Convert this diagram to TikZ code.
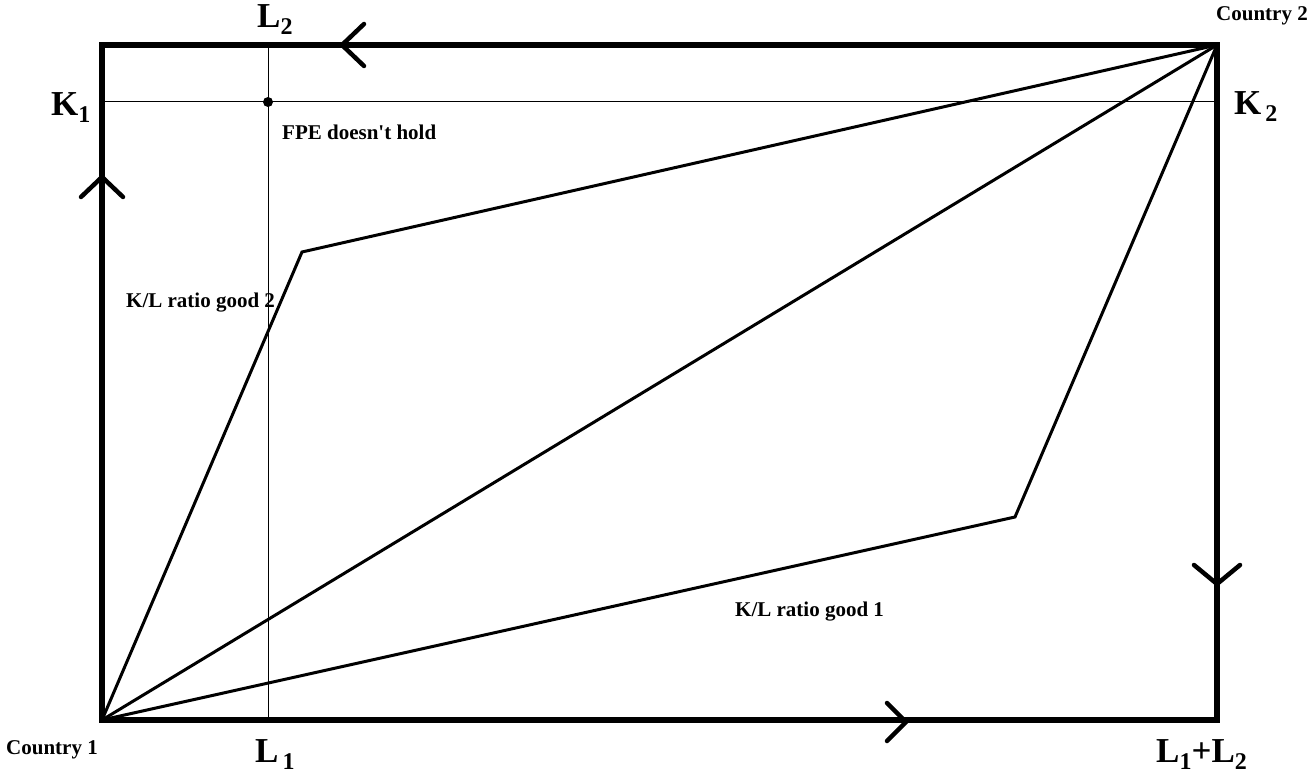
\documentclass[tikz,border=0pt]{standalone}
\usepackage{fontspec}
\setmainfont{Liberation Serif}
\newcommand{\biglab}[2]{\fontsize{35}{37}\selectfont\bfseries #1\raisebox{-0.2em}{\fontsize{24}{24}\selectfont\bfseries #2}}
\begin{document}
\begin{tikzpicture}[x=1pt,y=-1pt,
  frame/.style={line width=6pt,line cap=rect},
  thin/.style={line width=1pt},
  ray/.style={line width=3pt},
  chev/.style={line width=4.5pt,line cap=round,line join=miter},
  small/.style={inner sep=0pt,font=\fontsize{21}{23}\selectfont\bfseries},
  big/.style={inner sep=0pt}]
\useasboundingbox (0,0) rectangle (1307,773);
% corners
\coordinate (c1) at (102,720);
\coordinate (c2) at (1217,45);
\coordinate (tl) at (102,45);
\coordinate (br) at (1217,720);
\coordinate (p) at (302,252);
\coordinate (q) at (1015,517);
% thin guide lines
\coordinate (lt) at (268,45);
\coordinate (lb) at (268,720);
\coordinate (kl) at (102,102);
\coordinate (kr) at (1217,102);
\draw[thin] (lt) -- (lb);
\draw[thin] (kl) -- (kr);
% rays
\draw[ray,line join=miter] (c1) -- (p) -- (c2);
\draw[ray] (c1) -- (c2);
\draw[ray,line join=miter] (c1) -- (q) -- (c2);
% frame
\draw[frame] (c1) -- (tl) -- (c2) -- (br) -- cycle;
% dot
\node[circle,fill,inner sep=0pt,minimum size=10pt] (fpe) at (268,102) {};
% chevrons
\coordinate (at) at (342,45);
\draw[chev] (364,24) -- (at) -- (364,66);
\coordinate (al) at (102,177);
\draw[chev] (81,197) -- (al) -- (123,197);
\coordinate (ar) at (1217,584);
\draw[chev] (1194,565) -- (ar) -- (1240,565);
\coordinate (ab) at (906,722);
\draw[chev] (887,703) -- (ab) -- (887,741);
% labels
\node[big,anchor=base west] (L2) at (257,28) {\biglab{L}{2}};
\node[big,anchor=base west] (K1) at (51,116) {\biglab{K}{1}};
\node[big,anchor=base west] (K2) at (1234,115) {\biglab{K}{\,2}};
\node[big,anchor=base west] (L1) at (255,762) {\biglab{L}{\,1}};
\node[big,anchor=base west] (L12) at (1156,762) {\biglab{L}{1}{\fontsize{35}{37}\selectfont\bfseries+}\biglab{L}{2}};
\node[small,anchor=base west] (t1) at (282,140) {FPE doesn\textquotesingle t hold};
\node[small,anchor=base west] (t2) at (126,307) {K/L ratio good 2};
\node[small,anchor=base west] (t3) at (735,616) {K/L ratio good 1};
\node[small,anchor=base west] (cc1) at (6,754) {Country 1};
\node[small,anchor=base west] (cc2) at (1216,21) {Country 2};
\end{tikzpicture}
\end{document}
